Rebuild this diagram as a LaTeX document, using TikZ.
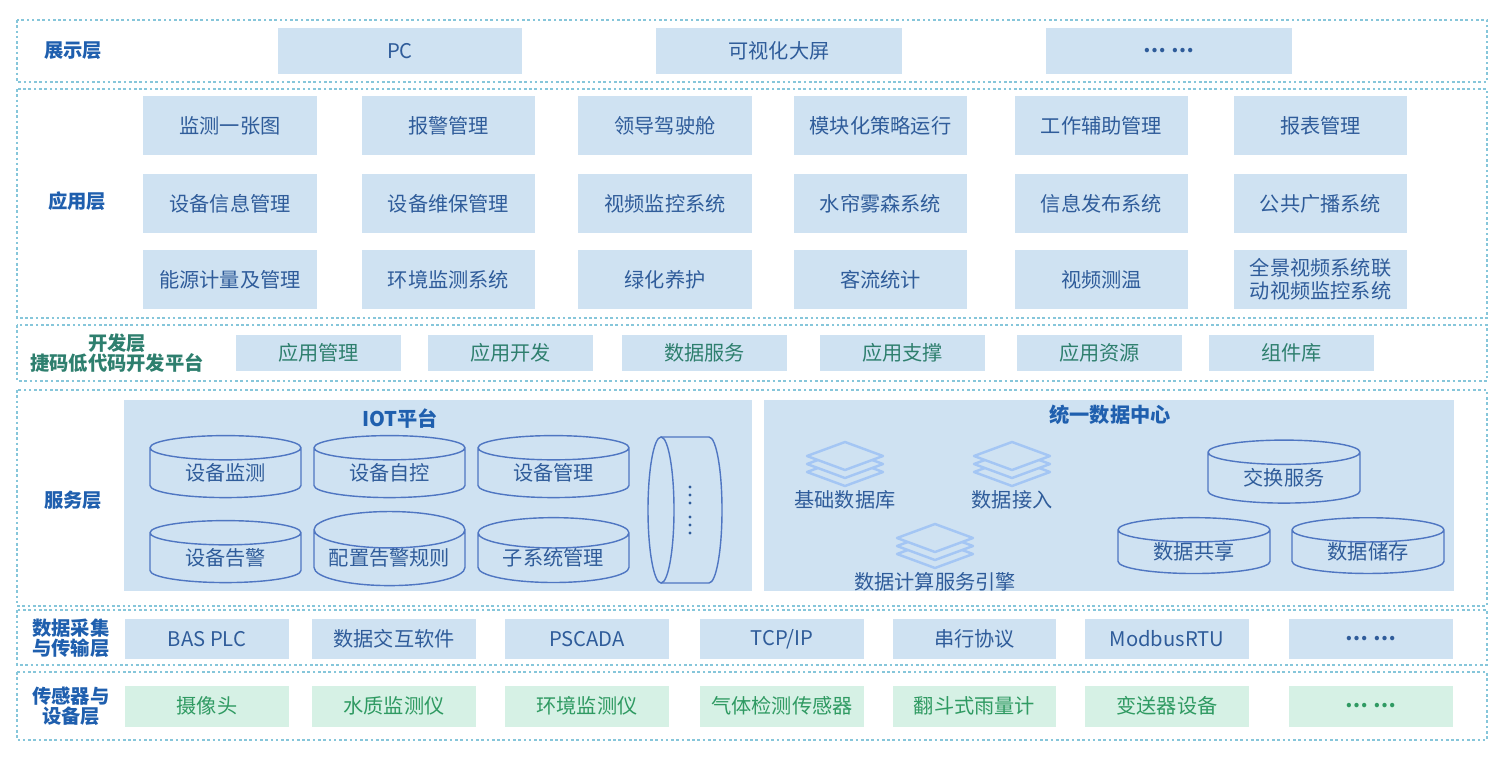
\documentclass[tikz,border=0pt]{standalone}
\usepackage{fontspec}
\setmainfont{Noto Sans CJK SC}
\usetikzlibrary{shapes.geometric}
\definecolor{layerline}{HTML}{86C6DA}
\definecolor{boxfill}{HTML}{CFE2F2}
\definecolor{boxtext}{HTML}{2F5C9A}
\definecolor{labelblue}{HTML}{1F5FAE}
\definecolor{devtext}{HTML}{2E7F6E}
\definecolor{greenfill}{HTML}{D6F1E5}
\definecolor{greentext}{HTML}{2F9A62}
\definecolor{cylline}{HTML}{4F76C2}
\definecolor{stackline}{HTML}{A4C6F4}
\tikzset{
  layer/.style={draw=layerline, line width=0.6pt, dash pattern=on 1.5pt off 1.5pt},
  lbl/.style={font=\fontsize{11}{12.5}\selectfont\bfseries, text=labelblue, align=center},
  box/.style={fill=boxfill, text=boxtext, font=\fontsize{11.5}{13}\selectfont, align=center, inner sep=0pt},
  devbox/.style={box, text=devtext, minimum width=3.3cm, minimum height=0.72cm},
  gbox/.style={fill=greenfill, text=greentext, font=\fontsize{11.5}{13}\selectfont, inner sep=0pt, minimum width=3.28cm, minimum height=0.82cm},
  cyl/.style={cylinder, shape border rotate=90, draw=cylline, line width=0.8pt, aspect=0.3,
    text=boxtext, font=\fontsize{11.5}{13}\selectfont, inner sep=0pt},
  stk/.style={draw=stackline, line width=1.4pt, line join=round},
}
\begin{document}
\begin{tikzpicture}[x=0.02cm, y=-0.02cm]
\useasboundingbox (0,0) rectangle (1498,758);

% layer frames
\draw[layer] (17,20) rectangle (1487,82);
\draw[layer] (17,89) rectangle (1487,318);
\draw[layer] (17,325) rectangle (1487,381);
\draw[layer] (17,390) rectangle (1487,606);
\draw[layer] (17,610) rectangle (1487,665);
\draw[layer] (17,672) rectangle (1487,740);

% layer labels
\node[lbl] (show) at (73,51) {展示层};
\node[lbl] (app) at (77,201) {应用层};
\node[lbl, text=devtext, font=\fontsize{11}{11.5}\selectfont\bfseries] (dev) at (117,353) {开发层\\捷码低代码开发平台};
\node[lbl] (svc) at (73,500) {服务层};
\node[lbl, font=\fontsize{11}{11.5}\selectfont\bfseries] (col) at (71,638) {数据采集\\与传输层};
\node[lbl, font=\fontsize{11}{11.5}\selectfont\bfseries] (sen) at (71,706) {传感器与\\设备层};

% display layer
\node[box, minimum width=4.88cm, minimum height=0.94cm] (pc) at (400,51) {PC};
\node[box, minimum width=4.92cm, minimum height=0.94cm] (screen) at (779,51) {可视化大屏};
\node[box, minimum width=4.94cm, minimum height=0.94cm] (more1) at (1169,51) {\textbf{…\ …}};

% application layer
\foreach \txt [count=\i] in {监测一张图, 报警管理, 领导驾驶舱, 模块化策略运行, 工作辅助管理, 报表管理,
    设备信息管理, 设备维保管理, 视频监控系统, 水帘雾森系统, 信息发布系统, 公共广播系统,
    能源计量及管理, 环境监测系统, 绿化养护, 客流统计, 视频测温, {全景视频系统联\\动视频监控系统}}
{
  \pgfmathtruncatemacro\c{mod(\i-1,6)}
  \pgfmathtruncatemacro\r{div(\i-1,6)}
  \pgfmathsetmacro\cx{{230,448.5,665,880.5,1101.5,1320.5}[\c]}
  \pgfmathsetmacro\cy{{125.5,203.5,279.5}[\r]}
  \node[box, minimum width=3.48cm, minimum height=1.18cm] (a\i) at (\cx,\cy) {\txt};
}

% development layer
\foreach \txt [count=\i] in {应用管理, 应用开发, 数据服务, 应用支撑, 应用资源, 组件库}
{
  \pgfmathsetmacro\cx{{318.5,510.5,704.5,902.5,1099.5,1291.5}[\i-1]}
  \node[devbox] (d\i) at (\cx,353) {\txt};
}

% service layer: IOT platform
\fill[boxfill] (124,400) rectangle (752,591);
\node[font=\fontsize{11.5}{13}\selectfont\bfseries, text=labelblue] (iot) at (400,419) {IOT平台};
\foreach \txt/\cx/\cy [count=\i] in {设备监测/225.5/473, 设备自控/389.5/473, 设备管理/553.5/473,
    设备告警/225.5/558, 配置告警规则/389.5/558, 子系统管理/553.5/558}
  \node[cyl, minimum width=3.02cm, minimum height=1.24cm] (c\i) at (\cx,\cy) {\txt};
\coordinate (cmore) at (685,510);
\draw[cylline, line width=0.8pt] (661,437) -- (709,437) arc[start angle=90, end angle=-90, x radius=13, y radius=-73] -- (661,583);
\draw[cylline, line width=0.8pt] (661,510) ellipse[x radius=13, y radius=73];
\foreach \dy in {487,495,503,517,525,533}
  \fill[boxtext] (690,\dy) circle[radius=1.6];

% service layer: data center
\fill[boxfill] (764,400) rectangle (1454,591);
\node[font=\fontsize{11.5}{13}\selectfont\bfseries, text=labelblue] (dc) at (1110,415) {统一数据中心};
\foreach \nm/\cx/\cy/\txt in {base/845/456/基础数据库, inlet/1012/456/数据接入, calc/935/538/数据计算服务引擎}
{
  \foreach \dy in {16,8,0}
    \draw[stk, fill=boxfill] (\cx-38,\cy+\dy) -- (\cx,\cy-14+\dy) -- (\cx+38,\cy+\dy) -- (\cx,\cy+14+\dy) -- cycle;
  \node[box, fill=none] (\nm) at (\cx,\cy+44) {\txt};
}
\node[cyl, minimum width=3.04cm, minimum height=1.26cm] (swap) at (1284,478) {交换服务};
\node[cyl, minimum width=3.04cm, minimum height=0.98cm] (share) at (1194,552) {数据共享};
\node[cyl, minimum width=3.04cm, minimum height=0.98cm] (store) at (1368,552) {数据储存};

% collection layer
\foreach \txt [count=\i] in {BAS PLC, 数据交互软件, PSCADA, TCP/IP, 串行协议, ModbusRTU, \textbf{…\ …}}
{
  \pgfmathsetmacro\cx{{207,394,587,782,974.5,1167,1371}[\i-1]}
  \node[box, minimum width=3.28cm, minimum height=0.8cm] (t\i) at (\cx,639) {\txt};
}

% sensor layer
\foreach \txt [count=\i] in {摄像头, 水质监测仪, 环境监测仪, 气体检测传感器, 翻斗式雨量计, 变送器设备, \textbf{…\ …}}
{
  \pgfmathsetmacro\cx{{207,394,587,782,974.5,1167,1371}[\i-1]}
  \node[gbox] (s\i) at (\cx,706) {\txt};
}
\end{tikzpicture}
\end{document}
